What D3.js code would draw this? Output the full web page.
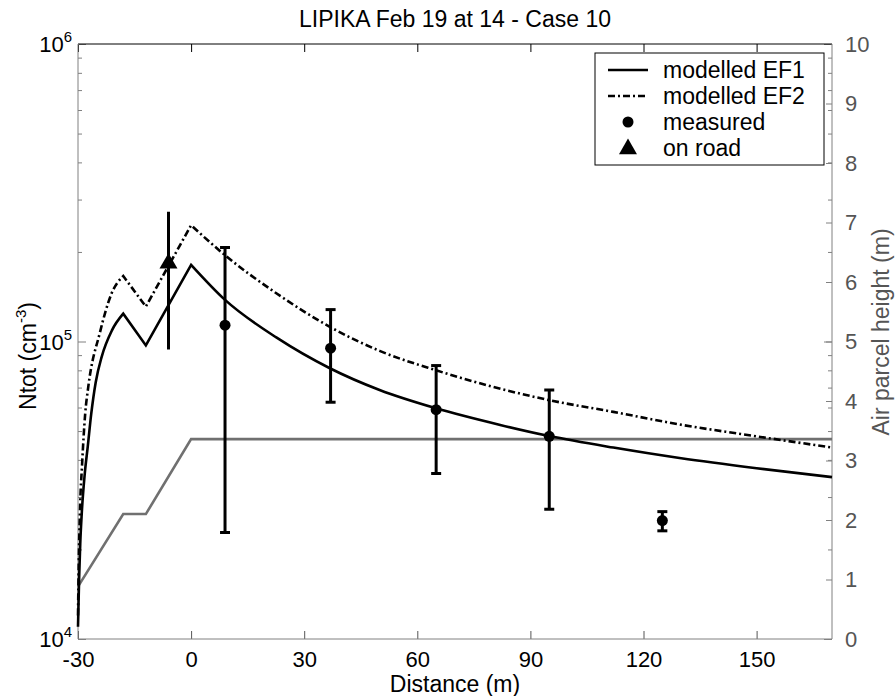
<!DOCTYPE html>
<html>
<head>
<meta charset="utf-8">
<script src="https://cdn.jsdelivr.net/npm/d3@7"></script>
<style>
  body { margin: 0; background: #fff; }
  text { font-family: "Liberation Sans", Arial, sans-serif; }
</style>
</head>
<body>
<svg id="chart" width="896" height="696"></svg>
<script>
// modelled number concentration, [distance (m), Ntot (cm-3)]
const ef1 = [
  [-30, 1.1e4], [-29.9, 1.25e4], [-29.7, 1.6e4], [-29.4, 2.1e4], [-29, 2.65e4],
  [-28.2, 3.6e4], [-27.4, 4.45e4], [-26.5, 5.7e4], [-25.3, 7.3e4], [-23.7, 8.9e4],
  [-21, 1.09e5], [-18, 1.24e5], [-12, 9.7e4], [0, 1.81e5], [9, 1.38e5],
  [22.7, 1.03e5], [36.8, 8.13e4], [50, 6.87e4], [65, 5.96e4], [82, 5.24e4],
  [95, 4.81e4], [112, 4.4e4], [130, 4.05e4], [150, 3.75e4], [170, 3.5e4]
];
const ef2 = [
  [-30, 1.2e4], [-29.8, 1.8e4], [-29.5, 2.65e4], [-28.9, 3.9e4], [-28.1, 5.7e4],
  [-27.3, 7e4], [-24.2, 1.07e5], [-21.1, 1.45e5], [-18, 1.66e5], [-12, 1.31e5],
  [0, 2.46e5], [9, 1.95e5], [22.7, 1.45e5], [36.8, 1.12e5], [50, 9.3e4],
  [65, 8.0e4], [95, 6.35e4], [112, 5.8e4], [130, 5.25e4], [150, 4.8e4], [170, 4.4e4]
];
// air parcel height, [distance (m), height (m)]
const parcelHeight = [[-30, 0.88], [-18, 2.1], [-12, 2.1], [0, 3.36], [170, 3.36]];

// measurements with error bars
const measDist = [9, 37, 65, 95, 125];
const measVal = [1.135e5, 9.5e4, 5.9e4, 4.8e4, 2.5e4];
const measLo = [2.28e4, 6.25e4, 3.6e4, 2.73e4, 2.31e4];
const measHi = [2.07e5, 1.28e5, 8.3e4, 6.87e4, 2.68e4];

const roadDist = [-6];
const roadVal = [1.83e5];
const roadLo = [9.4e4];
const roadHi = [2.73e5];

const xTicks = [-30, 0, 30, 60, 90, 120, 150];
const leftMajor = [1e4, 1e5, 1e6];
const leftExp = ["4", "5", "6"];
const rightTicks = d3.range(0, 11);
const legendLabels = ["modelled EF1", "modelled EF2", "measured", "on road"];
// the modelled curves have kinks at these distances
const kinks = [-18, -12, 0];

const svg = d3.select("#chart");
const mLeft = 78, mRight = 832, mTop = 44, mBottom = 639;
const gray = "#808080";

const x = d3.scaleLinear().domain([-30, 170]).range([mLeft, mRight]);
const yL = d3.scaleLog().domain([1e4, 1e6]).range([mBottom, mTop]);
const yR = d3.scaleLinear().domain([0, 10]).range([mBottom, mTop]);

const leftMinor = [];
[1e4, 1e5].forEach(b => { for (let k = 2; k <= 9; k++) leftMinor.push(b * k); });

svg.append("rect").attr("width", 896).attr("height", 696).attr("fill", "#fff");

// ticks
function styleAxis(g, color) {
  g.select(".domain").remove();
  g.selectAll("line").attr("stroke", color);
  return g;
}
svg.append("g").attr("transform", `translate(0,${mBottom})`)
  .call(d3.axisBottom(x).tickValues(xTicks).tickSize(-8).tickPadding(12).tickFormat(d => String(d)))
  .call(g => styleAxis(g, "#555"))
  .call(g => g.selectAll("text").attr("fill", "#000").style("font-size", "22px"));
svg.append("g").attr("transform", `translate(0,${mTop})`)
  .call(d3.axisTop(x).tickValues(xTicks).tickSize(-8).tickFormat(""))
  .call(g => styleAxis(g, "#000"));

[[d3.axisLeft, mLeft], [d3.axisRight, mRight]].forEach(([ax, pos]) => {
  svg.append("g").attr("transform", `translate(${pos},0)`)
    .call(ax(yL).tickValues(leftMajor).tickSize(-8).tickFormat(""))
    .call(g => styleAxis(g, gray));
  svg.append("g").attr("transform", `translate(${pos},0)`)
    .call(ax(yL).tickValues(leftMinor).tickSize(-4).tickFormat(""))
    .call(g => styleAxis(g, gray));
});
svg.append("g").attr("transform", `translate(${mRight},0)`)
  .call(d3.axisRight(yR).tickValues(rightTicks).tickSize(-6).tickPadding(13))
  .call(g => styleAxis(g, gray))
  .call(g => g.selectAll("text").attr("fill", "#555").style("font-size", "22px"));

// left labels 10^n
const lbl = svg.append("g").style("font-size", "22px").attr("fill", "#000");
leftMajor.forEach((v, i) => {
  const t = lbl.append("text").attr("x", 72).attr("y", yL(v) + 8).attr("text-anchor", "end");
  t.append("tspan").text("10");
  t.append("tspan").attr("dy", -10).style("font-size", "15px").text(leftExp[i]);
});

// frame
svg.append("line").attr("x1", mLeft).attr("x2", mRight).attr("y1", mTop).attr("y2", mTop).attr("stroke", "#000");
svg.append("line").attr("x1", mLeft).attr("x2", mRight).attr("y1", mBottom).attr("y2", mBottom).attr("stroke", gray);
svg.append("line").attr("x1", mLeft).attr("x2", mLeft).attr("y1", mTop).attr("y2", mBottom).attr("stroke", gray);
svg.append("line").attr("x1", mRight).attr("x2", mRight).attr("y1", mTop).attr("y2", mBottom).attr("stroke", gray);

// curves: smooth between kinks, sharp at the kinks
const lineL = d3.line().x(d => x(d[0])).y(d => yL(d[1])).curve(d3.curveMonotoneX);
function kinkedPath(data) {
  const pieces = [];
  let cur = [];
  data.forEach(d => {
    cur.push(d);
    if (kinks.includes(d[0])) { pieces.push(cur); cur = [d]; }
  });
  if (cur.length > 1) pieces.push(cur);
  return pieces.map((p, i) => {
    const s = lineL(p);
    return i ? s.replace(/^M/, "L") : s;
  }).join("");
}

const plot = svg.append("g");
plot.append("path").datum(parcelHeight)
  .attr("d", d3.line().x(d => x(d[0])).y(d => yR(d[1])))
  .attr("fill", "none").attr("stroke", "#707070").attr("stroke-width", 2.6);

plot.append("path").attr("d", kinkedPath(ef2))
  .attr("fill", "none").attr("stroke", "#000").attr("stroke-width", 2.6)
  .attr("stroke-dasharray", "7,3,2,3");
plot.append("path").attr("d", kinkedPath(ef1))
  .attr("fill", "none").attr("stroke", "#000").attr("stroke-width", 2.6);

// error bars
measDist.forEach((d, i) => {
  const cx = x(d);
  plot.append("line").attr("x1", cx).attr("x2", cx)
    .attr("y1", yL(measLo[i])).attr("y2", yL(measHi[i]))
    .attr("stroke", "#000").attr("stroke-width", 3);
  [measLo[i], measHi[i]].forEach(v => {
    plot.append("line").attr("x1", cx - 5).attr("x2", cx + 5)
      .attr("y1", yL(v)).attr("y2", yL(v))
      .attr("stroke", "#000").attr("stroke-width", 3);
  });
  plot.append("circle").attr("cx", cx).attr("cy", yL(measVal[i])).attr("r", 5.5).attr("fill", "#000");
});

const tri = d3.symbol().type(d3.symbolTriangle).size(140);
roadDist.forEach((d, i) => {
  const cx = x(d);
  plot.append("line").attr("x1", cx).attr("x2", cx)
    .attr("y1", yL(roadLo[i])).attr("y2", yL(roadHi[i]))
    .attr("stroke", "#000").attr("stroke-width", 3);
  plot.append("path").attr("d", tri)
    .attr("transform", `translate(${cx},${yL(roadVal[i])})`).attr("fill", "#000");
});

// legend
const leg = svg.append("g");
leg.append("rect").attr("x", 595).attr("y", 53).attr("width", 229).attr("height", 112)
  .attr("fill", "#fff").attr("stroke", "#000").attr("stroke-width", 1);
legendLabels.forEach((name, i) => {
  const ly = 70 + i * 26;
  if (i < 2) {
    leg.append("line").attr("x1", 608).attr("x2", 648).attr("y1", ly).attr("y2", ly)
      .attr("stroke", "#000").attr("stroke-width", 2.6)
      .attr("stroke-dasharray", i === 1 ? "7,3,2,3" : null);
  } else if (i === 2) {
    leg.append("circle").attr("cx", 628).attr("cy", ly).attr("r", 5.5).attr("fill", "#000");
  } else {
    leg.append("path").attr("d", tri).attr("transform", `translate(628,${ly + 1})`).attr("fill", "#000");
  }
  leg.append("text").attr("x", 663).attr("y", ly).attr("dy", "0.35em")
    .style("font-size", "23px").text(name);
});

// titles
svg.append("text").attr("x", 455).attr("y", 27).attr("text-anchor", "middle")
  .style("font-size", "23px").text("LIPIKA Feb 19 at 14 - Case 10");
svg.append("text").attr("x", 455).attr("y", 692).attr("text-anchor", "middle")
  .style("font-size", "23px").text("Distance (m)");

const yl = svg.append("text").attr("transform", "translate(36,356) rotate(-90)")
  .attr("text-anchor", "middle").style("font-size", "23px");
yl.append("tspan").text("Ntot (cm");
yl.append("tspan").attr("dy", -10).style("font-size", "15px").text("-3");
yl.append("tspan").attr("dy", 10).text(")");

svg.append("text").attr("transform", "translate(889,332) rotate(-90)")
  .attr("text-anchor", "middle").attr("fill", "#555").style("font-size", "23px")
  .text("Air parcel height (m)");
</script>
</body>
</html>
